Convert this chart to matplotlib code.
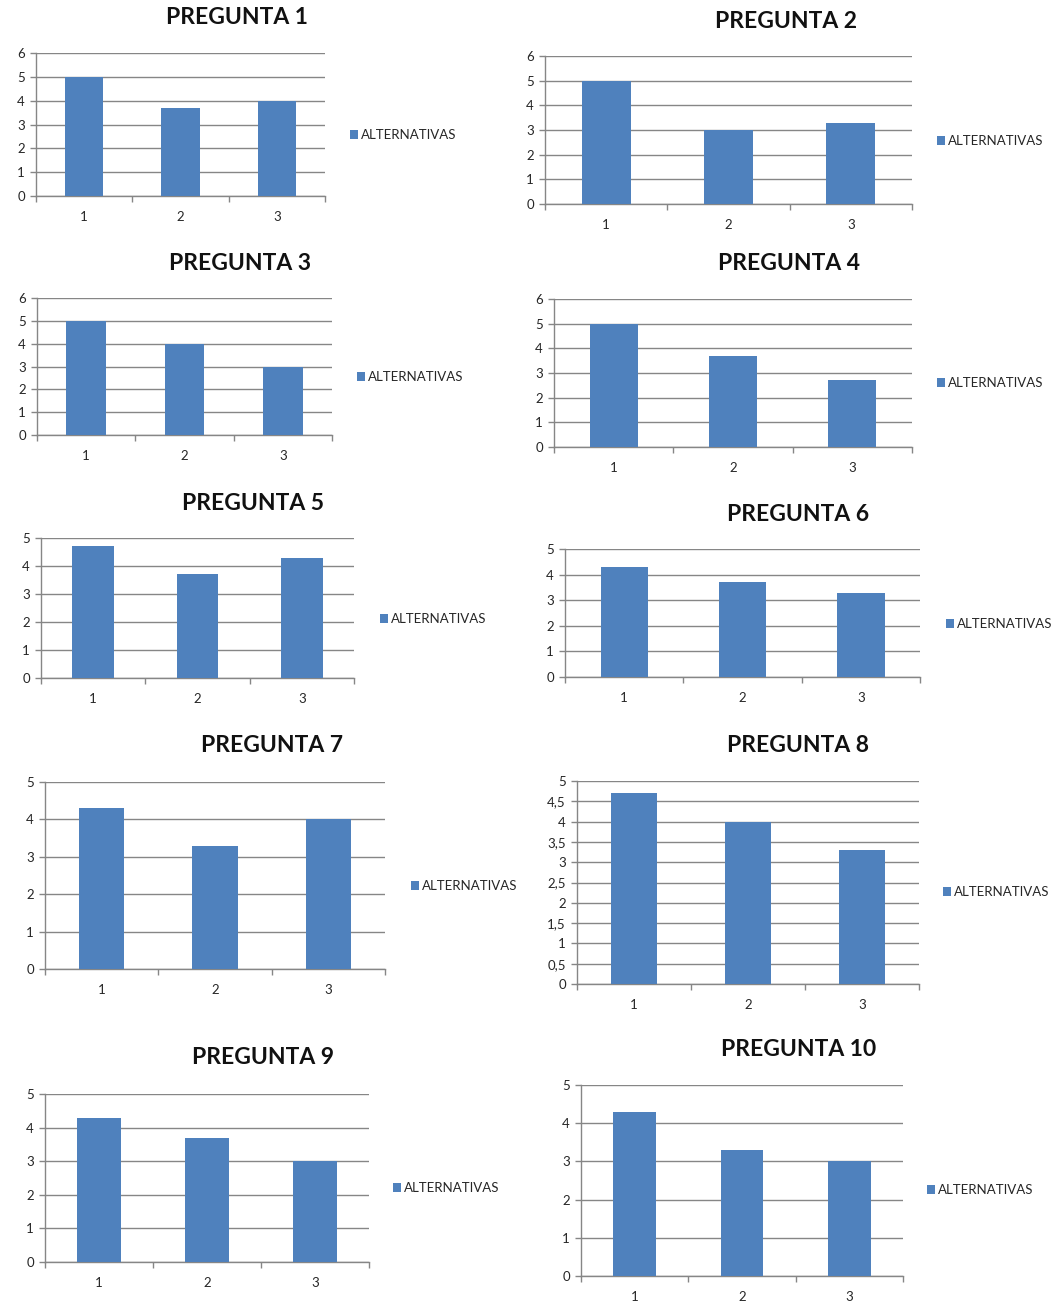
import numpy as np
import matplotlib
matplotlib.use("Agg")
import matplotlib.pyplot as plt
from matplotlib.patches import Patch
from matplotlib.ticker import FuncFormatter

# === Datos ===
categorias = ["1", "2", "3"]
titulos = ["PREGUNTA 1", "PREGUNTA 2", "PREGUNTA 3", "PREGUNTA 4", "PREGUNTA 5",
           "PREGUNTA 6", "PREGUNTA 7", "PREGUNTA 8", "PREGUNTA 9", "PREGUNTA 10"]
p1 = [5, 3.7, 4]
p2 = [5, 3, 3.3]
p3 = [5, 4, 3]
p4 = [5, 3.7, 2.7]
p5 = [4.7, 3.7, 4.3]
p6 = [4.3, 3.7, 3.3]
p7 = [4.3, 3.3, 4]
p8 = [4.7, 4, 3.3]
p9 = [4.3, 3.7, 3]
p10 = [4.3, 3.3, 3]
serie = "ALTERNATIVAS"
y_max = [6, 6, 6, 6, 5, 5, 5, 5, 5, 5]
y_paso = [1, 1, 1, 1, 1, 1, 1, 0.5, 1, 1]

valores = [p1, p2, p3, p4, p5, p6, p7, p8, p9, p10]

# === Disposición en píxeles: (izq, arriba, der, abajo), título (x, y), leyenda (x, y) ===
cajas = [(36, 53, 325, 196), (545, 56, 912, 204),
         (37, 298, 332, 435), (554, 299, 912, 447),
         (41, 538, 354, 678), (565, 549, 920, 677),
         (45, 782, 385, 969), (577, 781, 919, 984),
         (45, 1094, 369, 1262), (581, 1085, 903, 1276)]
pos_titulo = [(237, 18), (786, 21), (240, 263), (789, 263), (253, 503),
              (798, 514), (272, 746), (798, 746), (263, 1057), (799, 1049)]
pos_leyenda = [(350, 135), (937, 141), (357, 377), (937, 383), (380, 619),
               (946, 624), (411, 886), (943, 892), (393, 1188), (927, 1190)]

W, H = 1057, 1304
AZUL = "#4F81BD"
GRIS = "#868686"
TEXTO = "#262626"

plt.rcParams["font.family"] = ["Lato", "DejaVu Sans"]

fig = plt.figure(figsize=(W / 100, H / 100), dpi=100)
fig.patch.set_facecolor("white")

coma = FuncFormatter(lambda v, _: f"{v:g}".replace(".", ","))

for i in range(10):
    l, t, r, b = cajas[i]
    ax = fig.add_axes([l / W, 1 - b / H, (r - l) / W, (b - t) / H])
    x = np.arange(len(categorias))
    ax.bar(x, valores[i], width=0.4, color=AZUL, zorder=3, label=serie)

    ax.set_xlim(-0.5, 2.5)
    ax.set_ylim(0, y_max[i])
    ax.set_yticks(np.arange(0, y_max[i] + 0.001, y_paso[i]))
    ax.yaxis.set_major_formatter(coma)
    ax.grid(axis="y", color=GRIS, linewidth=1, zorder=0)
    ax.set_axisbelow(True)

    # ticks del eje x en los límites de categoría, etiquetas en el centro
    ax.set_xticks([-0.5, 0.5, 1.5, 2.5])
    ax.set_xticklabels([])
    ax.set_xticks(x, minor=True)
    ax.set_xticklabels(categorias, minor=True)
    ax.tick_params(axis="x", which="major", length=4, color=GRIS, width=1)
    ax.tick_params(axis="x", which="minor", length=0, pad=11, labelsize=9.5, labelcolor=TEXTO)
    ax.tick_params(axis="y", length=4, color=GRIS, width=1, pad=4, labelsize=9.5, labelcolor=TEXTO)

    for s in ["top", "right"]:
        ax.spines[s].set_visible(False)
    for s in ["left", "bottom"]:
        ax.spines[s].set_color(GRIS)
        ax.spines[s].set_linewidth(1)

    tx, ty = pos_titulo[i]
    fig.text(tx / W, 1 - ty / H, titulos[i], ha="center", va="center",
             fontsize=16.5, fontweight="bold", color="#111111")

    lx, ly = pos_leyenda[i]
    ax.legend(handles=[Patch(facecolor=AZUL, label=serie)], loc="center left",
              bbox_to_anchor=(lx / W, 1 - ly / H), bbox_transform=fig.transFigure,
              frameon=False, borderpad=0, borderaxespad=0, handlelength=0.6,
              handleheight=0.6, handletextpad=0.25, fontsize=9.5, labelcolor=TEXTO)

fig.savefig("out.png", dpi=100)
